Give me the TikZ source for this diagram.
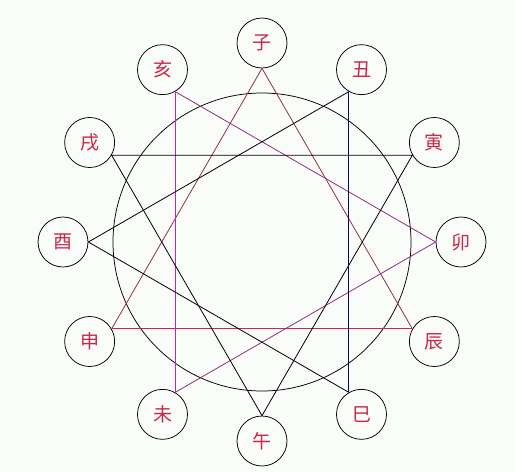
\documentclass[tikz,border=0pt]{standalone}
\usepackage{fontspec}
\usetikzlibrary{calc}
\newfontfamily\cjk{Noto Sans CJK SC}
\definecolor{bg}{HTML}{FAFCFA}
\definecolor{txt}{HTML}{C82848}
\definecolor{brn}{HTML}{8E3048}
\definecolor{pnk}{HTML}{C82850}
\definecolor{mag}{HTML}{C820C8}
\definecolor{pur}{HTML}{8A3080}
\definecolor{nav}{HTML}{08086A}
\begin{document}
\begin{tikzpicture}[x=1pt,y=-1pt,
  branch/.style={circle,draw=black,line width=0.75pt,minimum size=50pt,inner sep=0pt,
    text=txt,font=\cjk\fontsize{19}{19}\selectfont},
  link/.style={line width=0.8pt}]
\fill[bg] (0,0) rectangle (515,472);
\useasboundingbox (0,0) rectangle (515,472);
\coordinate (C) at (262,242);
\draw[line width=0.75pt] (C) circle (149);
\foreach \nm/\ch/\ang in {zi/子/90, chou/丑/60, yin/寅/30, mao/卯/0, chen/辰/-30, si/巳/-60,
  wu/午/-90, wei/未/-120, shen/申/-150, you/酉/180, xu/戌/150, hai/亥/120}
  \node[branch] (\nm) at ($(C)+(\ang:199 and -199)$) {\ch};
% water: shen-zi-chen
\draw[link,brn] (shen.30) -- (zi.270) -- (chen.150);
\draw[link,pnk] (shen.30) -- (chen.150);
% wood: hai-mao-wei
\draw[link,mag] (hai.300) -- (wei.60);
\draw[link,pur] (hai.300) -- (mao.180) -- (wei.60);
% fire: yin-wu-xu
\draw[link,black] (xu.330) -- (yin.210) -- (wu.90) -- cycle;
% metal: si-you-chou
\draw[link,nav] (chou.240) -- (si.120);
\draw[link,black] (chou.240) -- (you.0) -- (si.120);
\end{tikzpicture}
\end{document}
